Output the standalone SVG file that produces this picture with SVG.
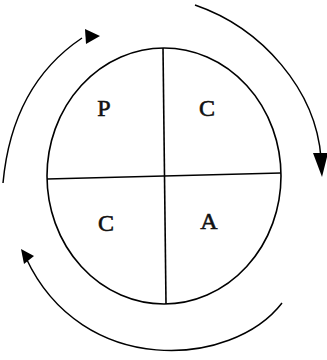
<svg xmlns="http://www.w3.org/2000/svg" width="327" height="360" viewBox="0 0 327 360">
<style>
.ln{fill:none;stroke:#000;stroke-width:1.6}
.ar{fill:none;stroke:#000;stroke-width:1.5}
.hd{fill:#000}
.lb{font-family:"Liberation Serif","Times New Roman",serif;font-size:24px;fill:#111;stroke:#111;stroke-width:0.6;text-anchor:middle}
</style>
<rect width="327" height="360" fill="#fff"/>
<g id="circle">
<ellipse class="ln" cx="164" cy="176" rx="117" ry="128"/>
<line class="ln" x1="47" y1="179" x2="281" y2="173"/>
<line class="ln" x1="163" y1="48" x2="166" y2="304"/>
</g>
<g id="node-p"><text class="lb" x="104" y="116">P</text></g>
<g id="node-c1"><text class="lb" x="207" y="116">C</text></g>
<g id="node-c2"><text class="lb" x="106" y="231">C</text></g>
<g id="node-a"><text class="lb" x="209" y="229">A</text></g>
<g id="connectors">
<path class="ar" d="M3,183 Q12,85 82,38"/>
<polygon class="hd" points="85,29 100,36 86,44"/>
<path class="ar" d="M195,5 C262,28 316,90 321,158"/>
<polygon class="hd" points="313,153 328,153 322,177"/>
<path class="ar" d="M282,303 C232,368 82,378 26,258"/>
<polygon class="hd" points="21,249 34,256 24,264"/>
</g>
</svg>
